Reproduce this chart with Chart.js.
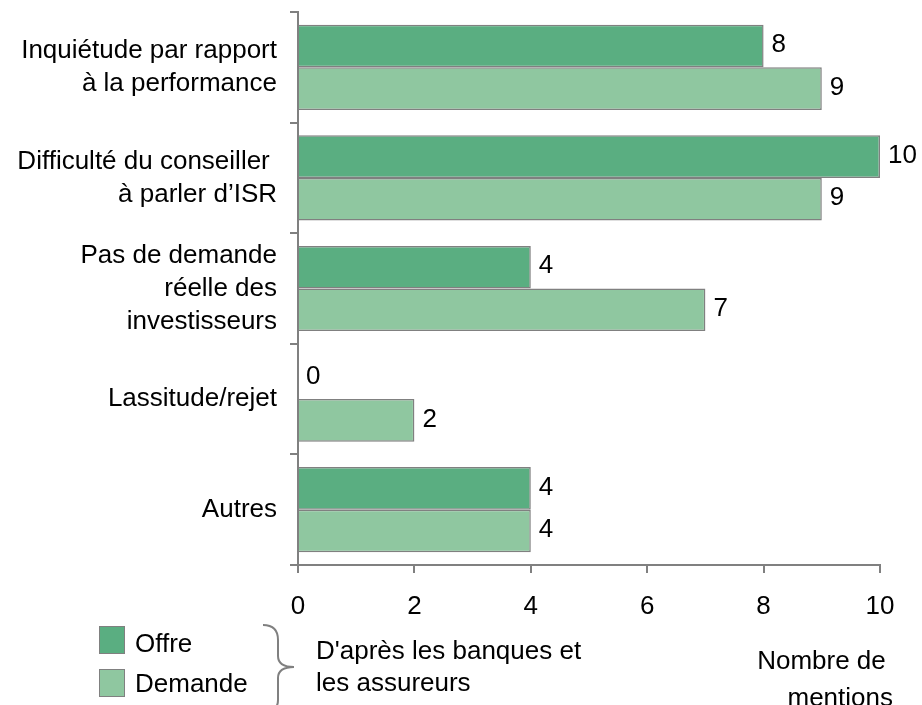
<!DOCTYPE html>
<html>
<head>
<meta charset="utf-8">
<script src="https://cdn.jsdelivr.net/npm/chart.js@4"></script>
<style>
  html, body { margin: 0; padding: 0; background: #fff; }
  #wrap { position: relative; width: 922px; height: 705px; overflow: hidden; font-family: "Liberation Sans", Arial, sans-serif; }
  canvas { position: absolute; left: 0; top: 0; }
  .t { position: absolute; font-size: 26px; line-height: 32px; color: #000; white-space: pre; }
  .box { position: absolute; width: 24px; height: 26px; border: 1.5px solid #808080; }
  svg { position: absolute; left: 0; top: 0; }
</style>
</head>
<body>
<div id="wrap">
  <canvas id="c" width="922" height="705"></canvas>
  <div class="box" style="left:99px;top:626px;background:#5AAE81"></div>
  <div class="box" style="left:99px;top:669px;background:#8FC7A0"></div>
  <div class="t" style="left:135px;top:627px">Offre</div>
  <div class="t" style="left:135px;top:667px">Demande</div>
  <svg width="922" height="705">
    <path d="M263,625 Q278,625 278,640 L278,656 Q278,667 294,667 Q278,667 278,678 L278,700 Q278,712 263,712" fill="none" stroke="#808080" stroke-width="2"/>
  </svg>
  <div class="t" style="left:316px;top:634px">D'après les banques et</div>
  <div class="t" style="left:316px;top:666px">les assureurs</div>
  <div class="t" style="left:756px;top:644px;width:137px;text-align:right">Nombre de </div>
  <div class="t" style="left:756px;top:681px;width:137px;text-align:right">mentions</div>
</div>
<script>
const categories = [
  ["Inquiétude par rapport", "à la performance"],
  ["Difficulté du conseiller ", "à parler d’ISR"],
  ["Pas de demande", "réelle des", "investisseurs"],
  ["Lassitude/rejet"],
  ["Autres"]
];
const seriesNames = ["Offre", "Demande"];
const offreValues = [8, 10, 4, 0, 4];
const demandeValues = [9, 9, 7, 2, 4];
const xTicks = [0, 2, 4, 6, 8, 10];

const FONT = "'Liberation Sans', Arial, sans-serif";
const GRAY = "#808080";

const valueLabels = {
  id: "valueLabels",
  afterDatasetsDraw(chart) {
    const ctx = chart.ctx;
    ctx.save();
    ctx.font = "26px " + FONT;
    ctx.fillStyle = "#000";
    ctx.textAlign = "left";
    ctx.textBaseline = "middle";
    chart.data.datasets.forEach((ds, di) => {
      const meta = chart.getDatasetMeta(di);
      meta.data.forEach((bar, i) => {
        ctx.fillText(String(ds.data[i]), bar.x + 8, bar.y - 1);
      });
    });
    ctx.restore();
  }
};

new Chart(document.getElementById("c"), {
  type: "bar",
  data: {
    labels: categories,
    datasets: [
      { label: seriesNames[0], data: offreValues, backgroundColor: "#5AAE81", borderColor: GRAY, borderWidth: 1.5, categoryPercentage: 0.77, barPercentage: 1 },
      { label: seriesNames[1], data: demandeValues, backgroundColor: "#8FC7A0", borderColor: GRAY, borderWidth: 1.5, categoryPercentage: 0.77, barPercentage: 1 }
    ]
  },
  options: {
    indexAxis: "y",
    responsive: false,
    animation: false,
    layout: { padding: { left: 0, top: 12, right: 42, bottom: 0 } },
    plugins: { legend: { display: false }, tooltip: { enabled: false } },
    scales: {
      x: {
        min: 0, max: 10,
        afterBuildTicks(scale) { scale.ticks = xTicks.map(v => ({ value: v })); },
        afterFit(scale) { scale.height = 140; scale.paddingLeft = 0; scale.paddingRight = 0; },
        grid: { display: true, drawOnChartArea: false, drawTicks: true, tickLength: 8, color: GRAY, lineWidth: 2 },
        border: { display: true, color: GRAY, width: 2 },
        ticks: { color: "#000", font: { family: FONT, size: 26 }, padding: 18, maxRotation: 0 }
      },
      y: {
        afterFit(scale) { scale.width = 298; scale.paddingTop = 0; scale.paddingBottom = 0; },
        grid: { display: true, offset: true, drawOnChartArea: false, drawTicks: true, tickLength: 8, color: GRAY, lineWidth: 2 },
        border: { display: true, color: GRAY, width: 2 },
        ticks: { color: "#000", font: { family: FONT, size: 26, lineHeight: 1.27 }, padding: 13 }
      }
    }
  },
  plugins: [valueLabels]
});
</script>
</body>
</html>
